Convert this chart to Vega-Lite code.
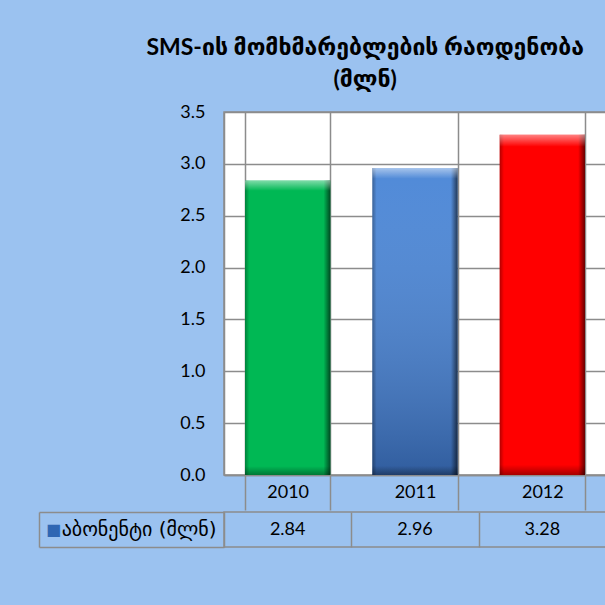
{
  "$schema": "https://vega.github.io/schema/vega-lite/v6.json",
  "background": "#9BC2F0",
  "padding": {"left": 37, "top": 37, "right": 0, "bottom": 66},
  "title": {
    "text": ["SMS-ის მომხმარებლების რაოდენობა", "(მლნ)"],
    "fontSize": 23,
    "font": "Lato, DejaVu Sans",
    "fontWeight": "bold",
    "color": "#000000",
    "lineHeight": 32,
    "anchor": "middle",
    "dx": 43,
    "offset": 10
  },
  "datasets": {
    "d": [
      {"year": "2010", "value": 2.84, "series": "აბონენტი (მლნ)"},
      {"year": "2011", "value": 2.96, "series": "აბონენტი (მლნ)"},
      {"year": "2012", "value": 3.28, "series": "აბონენტი (მლნ)"}
    ]
  },
  "data": {"name": "d"},
  "spacing": -14,
  "vconcat": [
    {
      "width": 382,
      "height": 363,
      "view": {"fill": "#FFFFFF", "stroke": "#8C8C8C", "strokeWidth": 1.5},
      "encoding": {
        "x": {
          "field": "year",
          "type": "nominal",
          "scale": {"paddingInner": 0.33, "paddingOuter": 0.165},
          "axis": {
            "title": null,
            "labelAngle": 0,
            "grid": true,
            "tickBand": "extent",
            "gridColor": "#8C8C8C",
            "gridWidth": 1.5,
            "ticks": true,
            "tickSize": 35,
            "tickColor": "#8C8C8C",
            "tickWidth": 1.5,
            "domainColor": "#8C8C8C",
            "domainWidth": 1.5,
            "labelBaseline": "middle",
            "labelPadding": -17.5,
            "labelFontSize": 18,
            "labelFont": "Lato, DejaVu Sans",
            "labelColor": "#000000"
          }
        },
        "y": {
          "field": "value",
          "type": "quantitative",
          "scale": {"domain": [0, 3.5], "nice": false},
          "axis": {
            "title": null,
            "values": [0, 0.5, 1, 1.5, 2, 2.5, 3, 3.5],
            "format": ".1f",
            "grid": true,
            "gridColor": "#8C8C8C",
            "gridWidth": 1.5,
            "ticks": false,
            "labelPadding": 19,
            "labelFontSize": 18,
            "labelFont": "Lato, DejaVu Sans",
            "labelColor": "#000000",
            "domainColor": "#8C8C8C",
            "domainWidth": 1.5
          }
        }
      },
      "layer": [
        {
          "mark": {"type": "bar"},
          "encoding": {
            "color": {
              "field": "year",
              "type": "nominal",
              "scale": {"domain": ["2010", "2011", "2012"], "range": ["#00B854", "#4784D6", "#FF0000"]},
              "legend": null
            }
          }
        },
        {
          "transform": [{"filter": "datum.year == '2011'"}],
          "mark": {
            "type": "bar",
            "fill": {
              "gradient": "linear", "x1": 0, "y1": 0, "x2": 0, "y2": 1,
              "stops": [
                {"offset": 0, "color": "rgba(255,255,255,0.05)"},
                {"offset": 1, "color": "rgba(0,10,40,0.32)"}
              ]
            }
          }
        },
        {
          "mark": {
            "type": "bar",
            "fill": {
              "gradient": "linear", "x1": 0, "y1": 0, "x2": 1, "y2": 0,
              "stops": [
                {"offset": 0, "color": "rgba(0,0,0,0.3)"},
                {"offset": 0.05, "color": "rgba(0,0,0,0)"},
                {"offset": 0.92, "color": "rgba(0,0,0,0)"},
                {"offset": 1, "color": "rgba(0,0,0,0.6)"}
              ]
            }
          }
        },
        {
          "mark": {
            "type": "bar",
            "fill": {
              "gradient": "linear", "x1": 0, "y1": 0, "x2": 0, "y2": 1,
              "stops": [
                {"offset": 0, "color": "rgba(255,255,255,0.5)"},
                {"offset": 0.035, "color": "rgba(255,255,255,0)"},
                {"offset": 0.97, "color": "rgba(0,0,0,0)"},
                {"offset": 1, "color": "rgba(0,0,0,0.35)"}
              ]
            }
          }
        }
      ]
    },
    {
      "width": 382,
      "height": 35,
      "view": {"stroke": "#8C8C8C", "strokeWidth": 1.5},
      "mark": {"type": "text", "fontSize": 18, "font": "Lato, DejaVu Sans", "color": "#000000"},
      "encoding": {
        "x": {
          "field": "year",
          "type": "nominal",
          "scale": {"paddingInner": 0, "paddingOuter": 0},
          "axis": {
            "title": null,
            "labels": false,
            "ticks": false,
            "domain": false,
            "grid": true,
            "tickBand": "extent",
            "gridColor": "#8C8C8C",
            "gridWidth": 1.5
          }
        },
        "y": {
          "field": "series",
          "type": "nominal",
          "axis": {
            "title": "■",
            "titleColor": "#2F66B3",
            "titleFontSize": 16,
            "titleFont": "DejaVu Sans",
            "titleAngle": 0,
            "titleX": 14,
            "titleY": 17.5,
            "titleAlign": "center",
            "titleBaseline": "middle",
            "offset": 185,
            "tickSize": -185,
            "tickBand": "extent",
            "tickColor": "#8C8C8C",
            "tickWidth": 1.5,
            "domainColor": "#8C8C8C",
            "domainWidth": 1.5,
            "grid": false,
            "labelPadding": 8,
            "labelAlign": "right",
            "labelFontSize": 20,
            "labelFont": "DejaVu Sans",
            "labelColor": "#000000"
          }
        },
        "text": {"field": "value", "type": "quantitative", "format": ".2f"}
      }
    }
  ],
  "config": {"axis": {"labelLimit": 400}}
}
